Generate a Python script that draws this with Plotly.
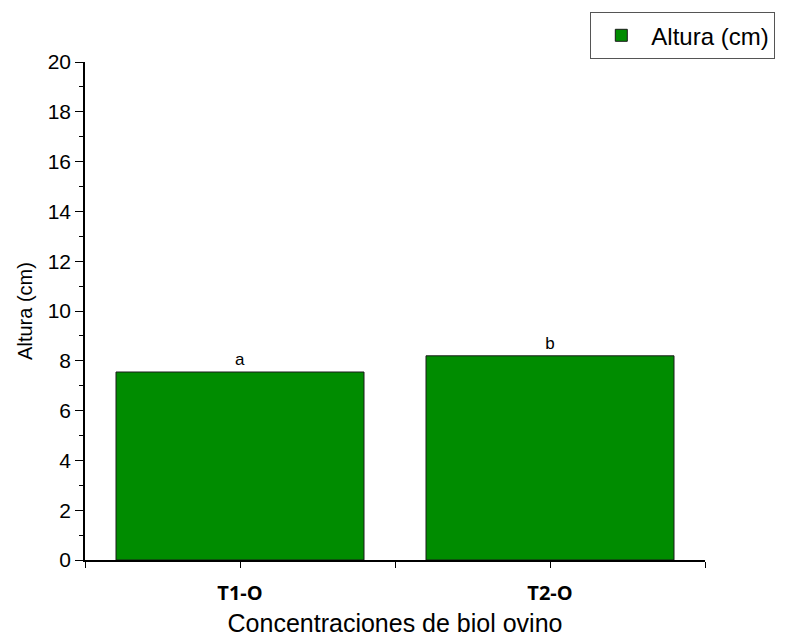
import plotly.graph_objects as go

categories = ["T1-O", "T2-O"]
values = [7.55, 8.2]
letters = ["a", "b"]
series_name = "Altura (cm)"

x_pos = list(range(len(categories)))

fig = go.Figure()
fig.add_trace(go.Bar(
    x=x_pos, y=values, name=series_name, width=0.8,
    marker=dict(color="#008C00", line=dict(color="#1a1a1a", width=1)),
    text=letters, textposition="outside", cliponaxis=False,
    textfont=dict(family="Liberation Sans, Arial", size=17, color="black"),
    showlegend=True,
))

fig.update_layout(
    width=784, height=630,
    margin=dict(l=77, r=87, t=54, b=78, autoexpand=False),
    plot_bgcolor="white", paper_bgcolor="white",
    font=dict(family="Liberation Sans, Arial", color="black"),
    legend=dict(x=0.815, y=1.1, xanchor="left", yanchor="top",
                bordercolor="#555", borderwidth=1, itemwidth=50,
                font=dict(size=24, family="Liberation Sans, Arial"),
                bgcolor="white"),
    xaxis=dict(
        range=[-0.5, 1.5],
        tickmode="array",
        tickvals=[-0.5, 0, 0.5, 1, 1.5],
        ticktext=["", "<b>" + categories[0] + "</b>", "", "<b>" + categories[1] + "</b>", ""],
        ticks="outside", ticklen=6, tickcolor="black", tickwidth=1,
        ticklabelstandoff=8,
        showline=True, linecolor="black", linewidth=1.5,
        showgrid=False, zeroline=False,
        tickfont=dict(size=20, family="Open Sans, Liberation Sans"),
        title=dict(text="Concentraciones de biol ovino", font=dict(size=25), standoff=10),
    ),
    yaxis=dict(
        range=[0, 20], dtick=2,
        ticks="outside", ticklen=8, tickcolor="black",
        minor=dict(dtick=1, ticks="outside", ticklen=4, tickcolor="black"),
        showline=True, linecolor="black", linewidth=1.5,
        showgrid=False, zeroline=False,
        tickfont=dict(size=21),
        title=dict(text="Altura (cm)", font=dict(size=20), standoff=10),
    ),
)

fig.write_html("out.html")
